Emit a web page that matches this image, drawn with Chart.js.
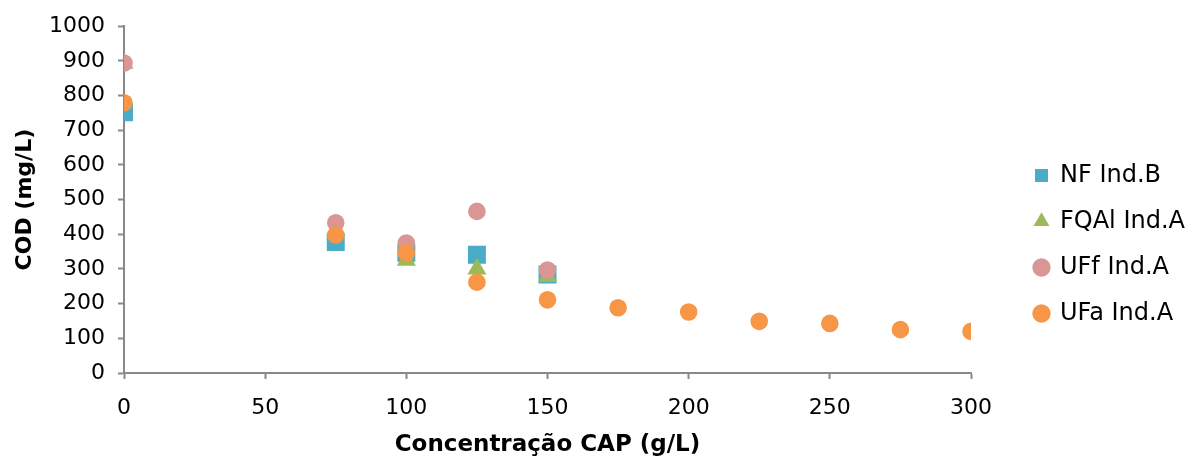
<!DOCTYPE html>
<html>
<head>
<meta charset="utf-8">
<title>COD vs Concentração CAP</title>
<script src="https://cdn.jsdelivr.net/npm/chart.js@4/dist/chart.umd.min.js"></script>
<style>
  html, body { margin: 0; padding: 0; background: #ffffff; }
  #wrap { width: 1192px; height: 461px; }
</style>
</head>
<body>
<div id="wrap"><canvas id="chart" width="1192" height="461"></canvas></div>
<script>
// Series labels
const seriesNames = ['NF Ind.B', 'FQAl Ind.A', 'UFf Ind.A', 'UFa Ind.A'];

// CAP concentration (g/L) and COD (mg/L) per series
const nfX = [0, 75, 100, 125, 150];
const nfCOD = [752, 378, 347, 341, 284];

const fqalX = [0, 75, 100, 125, 150];
const fqalCOD = [893, 410, 325, 300, 278];

const uffX = [0, 75, 100, 125, 150];
const uffCOD = [894, 433, 375, 466, 297];

const ufaX = [0, 75, 100, 125, 150, 175, 200, 225, 250, 275, 300];
const ufaCOD = [779, 398, 347, 262, 211, 188, 176, 149, 143, 125, 120];

// Axis ranges and titles
const xRange = [0, 300, 50];
const yRange = [0, 1000, 100];
const xTitle = 'Concentração CAP (g/L)';
const yTitle = 'COD (mg/L)';

const colors = ['#4BACC6', '#9BBB59', '#D99694', '#F79646'];
const styles = ['rect', 'triangle', 'circle', 'circle'];
const radii = [12.7, 11, 8.8, 8.8];

const toPoints = (xs, ys) => xs.map((x, i) => ({ x: x, y: ys[i] }));
const seriesData = [
  toPoints(nfX, nfCOD),
  toPoints(fqalX, fqalCOD),
  toPoints(uffX, uffCOD),
  toPoints(ufaX, ufaCOD)
];

const AXIS = '#898989';
const FONT = "'DejaVu Sans', sans-serif";

// Legend sits in a fixed-width column to the right of the plot
const LEGEND_WIDTH = 221;
const LEGEND_ITEMS_LEFT = 1035;
const LEGEND_NUDGE_Y = 2;

const legendPlacement = {
  id: 'legendPlacement',
  beforeLayout(chart) {
    const lg = chart.legend;
    if (lg && !lg._fixedWidth) {
      const fit = lg.fit;
      lg.fit = function () {
        fit.call(this);
        this.width = LEGEND_WIDTH;
      };
      lg._fixedWidth = true;
    }
  },
  afterLayout(chart) {
    const lg = chart.legend;
    if (!lg) return;
    const pad = lg.options.labels.padding;
    const w = lg.right - lg.left;
    lg.left = LEGEND_ITEMS_LEFT - pad;
    lg.right = lg.left + w;
    lg.top += LEGEND_NUDGE_Y;
    lg.bottom += LEGEND_NUDGE_Y;
  }
};

const plainNumber = (value) => String(value);

new Chart(document.getElementById('chart'), {
  type: 'scatter',
  data: {
    datasets: seriesNames.map((name, i) => ({
      label: name,
      data: seriesData[i],
      pointStyle: styles[i],
      pointRadius: radii[i],
      pointHoverRadius: radii[i],
      pointBackgroundColor: colors[i],
      pointBorderColor: colors[i],
      pointBorderWidth: 0,
      backgroundColor: colors[i],
      borderColor: colors[i],
      showLine: false,
      order: seriesNames.length - i
    }))
  },
  options: {
    responsive: false,
    animation: false,
    devicePixelRatio: 1,
    layout: { padding: { top: 24, right: 0, bottom: 0, left: 0 } },
    plugins: {
      tooltip: { enabled: false },
      legend: {
        position: 'right',
        align: 'center',
        labels: {
          usePointStyle: true,
          boxWidth: 13,
          boxHeight: 13,
          padding: 22,
          color: '#000000',
          font: { family: FONT, size: 24 },
          sort: (a, b) => a.datasetIndex - b.datasetIndex,
          generateLabels(chart) {
            return chart.data.datasets.map((ds, i) => ({
              text: ds.label,
              fillStyle: ds.backgroundColor,
              strokeStyle: ds.backgroundColor,
              lineWidth: 0,
              pointStyle: ds.pointStyle,
              hidden: false,
              datasetIndex: i
            }));
          }
        }
      }
    },
    scales: {
      x: {
        type: 'linear',
        min: xRange[0],
        max: xRange[1],
        afterFit(scale) { scale.height = 88; },
        border: { display: true, color: AXIS, width: 2 },
        grid: {
          display: true,
          drawOnChartArea: false,
          drawTicks: true,
          tickLength: 6,
          tickWidth: 2,
          tickColor: AXIS,
          color: AXIS
        },
        ticks: {
          stepSize: xRange[2],
          padding: 16,
          color: '#000000',
          maxRotation: 0,
          callback: plainNumber,
          font: { family: FONT, size: 22 }
        },
        title: {
          display: true,
          text: xTitle,
          color: '#000000',
          padding: { top: 0, bottom: 2 },
          font: { family: FONT, size: 23, weight: 'bold' }
        }
      },
      y: {
        type: 'linear',
        min: yRange[0],
        max: yRange[1],
        afterFit(scale) { scale.width = 124; },
        border: { display: true, color: AXIS, width: 2 },
        grid: {
          display: true,
          drawOnChartArea: false,
          drawTicks: true,
          tickLength: 6,
          tickWidth: 2,
          tickColor: AXIS,
          color: AXIS
        },
        ticks: {
          stepSize: yRange[2],
          padding: 13,
          color: '#000000',
          callback: plainNumber,
          font: { family: FONT, size: 22 }
        },
        title: {
          display: true,
          text: yTitle,
          color: '#000000',
          padding: { top: 12, bottom: 0 },
          font: { family: FONT, size: 22, weight: 'bold' }
        }
      }
    }
  },
  plugins: [legendPlacement]
});
</script>
</body>
</html>
